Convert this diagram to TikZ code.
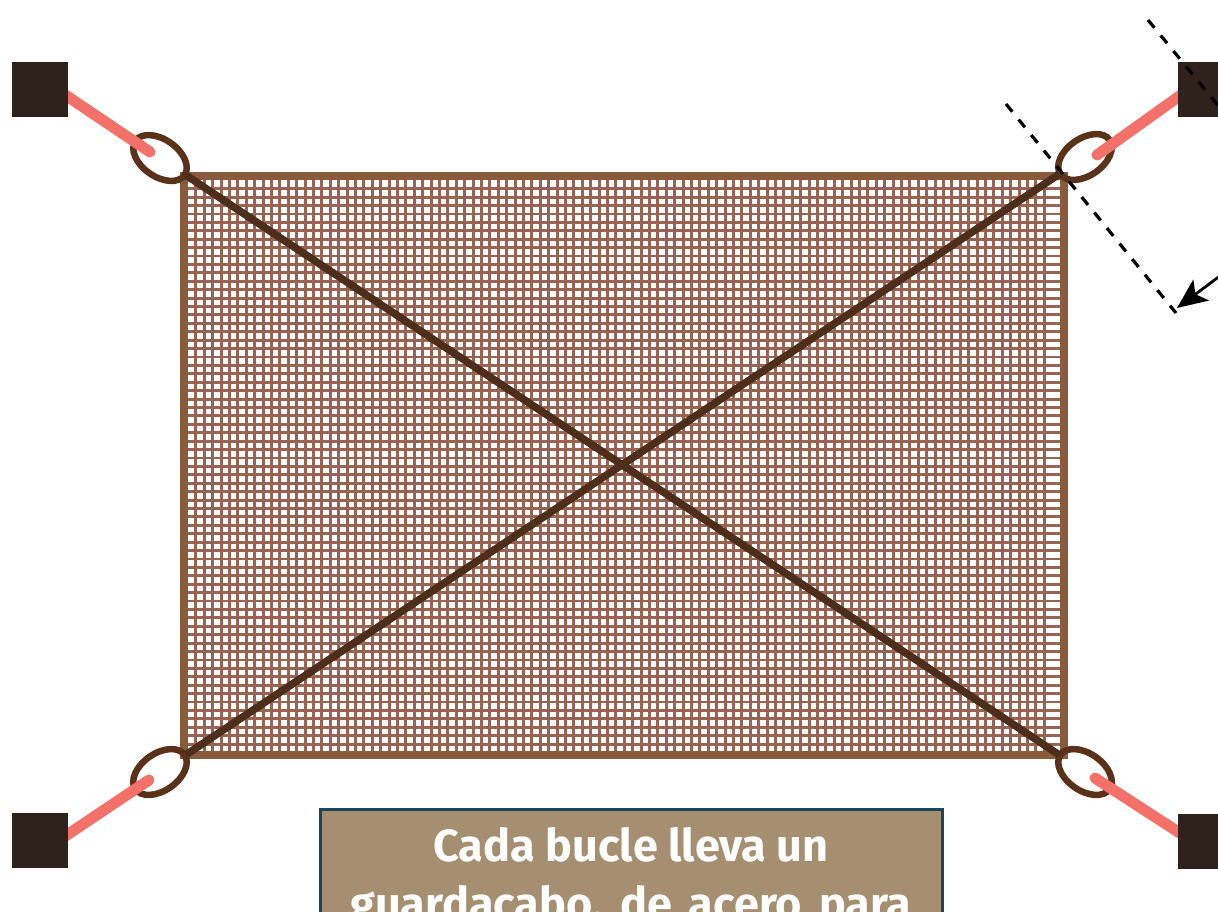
\documentclass[tikz,border=0pt]{standalone}
\usepackage{fontspec}
\setmainfont{Fira Sans}
\usetikzlibrary{shapes.geometric,arrows.meta}
\definecolor{postc}{HTML}{2F211C}
\definecolor{ropec}{HTML}{F4716A}
\definecolor{loopc}{HTML}{5A3219}
\definecolor{diagc}{HTML}{4C2E1B}
\definecolor{framec}{HTML}{8A5A3C}
\definecolor{meshc}{HTML}{9A6351}
\definecolor{boxfill}{HTML}{A58F70}
\definecolor{boxedge}{HTML}{17475F}
\tikzset{
  x=1pt,y=-1pt,
  post/.style={fill=postc,draw=none,minimum width=56pt,minimum height=55pt,inner sep=0pt},
  eye/.style={ellipse,draw=loopc,line width=6.5pt,minimum width=60pt,minimum height=37pt,inner sep=0pt},
  rope/.style={ropec,line width=11pt},
  diagline/.style={diagc,line width=7.5pt,shorten <=-2pt,shorten >=-2pt},
  meshline/.style={meshc,line width=2.9pt},
  frameline/.style={draw=framec,line width=8.5pt},
  guide/.style={black,line width=3.2pt,dash pattern=on 10pt off 10pt},
  pointer/.style={black,line width=2.8pt,-{Stealth[length=30pt,width=26pt,inset=7pt]}},
  notebox/.style={draw=boxedge,fill=boxfill,line width=3.5pt,minimum width=622pt,minimum height=200pt,inner sep=0pt},
  notetext/.style={text=white,font=\fontsize{45}{58}\selectfont\bfseries,align=center,anchor=north}
}
\begin{document}
\begin{tikzpicture}
\useasboundingbox (0,0) rectangle (1218,911);
\clip (0,0) rectangle (1218,911);
\fill[white] (0,0) rectangle (1218,911);
% mesh
\foreach \i in {0,...,101} {\draw[meshline] ({195.9+8.4*\i},176) -- ({195.9+8.4*\i},755);}
\foreach \j in {0,...,66} {\draw[meshline] (184,{188.7+8.415*\j}) -- (1064,{188.7+8.415*\j});}
\draw[frameline] (184,176) rectangle (1064,755);
% posts
\node[post] (pTL) at (40,89.5) {};
\node[post] (pTR) at (1206,89.5) {};
\node[post] (pBL) at (40,840.5) {};
\node[post] (pBR) at (1206,841) {};
% loops
\node[eye,rotate=-35] (eTL) at (160,158) {};
\node[eye,rotate=35] (eTR) at (1085,157) {};
\node[eye,rotate=35] (eBL) at (160,772) {};
\node[eye,rotate=-35] (eBR) at (1085,772) {};
% diagonals
\draw[diagline] (eTL) -- (eBR);
\draw[diagline] (eTR) -- (eBL);
% ropes: free ends inside the loops, far ends hidden inside the posts
\coordinate (rTL) at (150,152);
\coordinate (rTR) at (1097,155);
\coordinate (rBL) at (149,780);
\coordinate (rBR) at (1095,778);
\coordinate (qTL) at (40,78);
\coordinate (qTR) at (1206,77);
\coordinate (qBL) at (40,853);
\coordinate (qBR) at (1206,850);
\draw[rope,line cap=round] (rTL) -- (qTL);
\draw[rope,line cap=round] (rTR) -- (qTR);
\draw[rope,line cap=round] (rBL) -- (qBL);
\draw[rope,line cap=round] (rBR) -- (qBR);
\node[post] (cTL) at (pTL) {};
\node[post] (cTR) at (pTR) {};
\node[post] (cBL) at (pBL) {};
\node[post] (cBR) at (pBR) {};
% guides
\coordinate (g1a) at (1006,104);
\coordinate (g1b) at (1176,313);
\coordinate (g2a) at (1148,20);
\coordinate (g2b) at (1230,120);
\draw[guide] (g1a) -- (g1b);
\draw[guide] (g2a) -- (g2b);
\coordinate (arA) at (1240,261);
\coordinate (arB) at (1177,308);
\draw[pointer] (arA) -- (arB);
% note
\node[notebox,anchor=north] (note) at (631.5,807.5) {};
\node[notetext] (notelabel) at (631,824) {Cada bucle lleva un\\{\spaceskip=17pt guardacabo, de acero para}};
\end{tikzpicture}
\end{document}
